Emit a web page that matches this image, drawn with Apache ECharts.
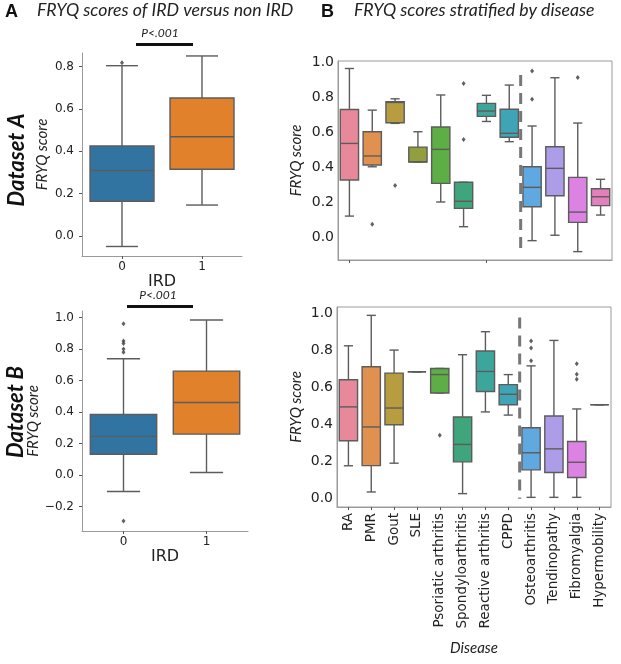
<!DOCTYPE html>
<html>
<head>
    <meta charset="utf-8">
    <script src="https://cdn.jsdelivr.net/npm/echarts@6/dist/echarts.min.js"></script>
    <title>FRYQ scores</title>
    <style>
        html, body { margin: 0; padding: 0; background: #fff; }
        #main { width: 621px; height: 664px; }
    </style>
</head>
<body>
    <div id="main"></div>

    <script type="text/javascript">
        // panel A: IRD 0 / 1, boxes are [min, q1, median, q3, max]
        var irdCats = ['0', '1'];
        var irdColors = ['#3274a1', '#e1812c'];
        var aTopBoxes = [[-0.05, 0.164, 0.309, 0.425, 0.805], [0.146, 0.315, 0.469, 0.652, 0.851]];
        var aTopOutliers = [[0, 0.819]];
        var aBotBoxes = [[-0.104, 0.133, 0.246, 0.385, 0.738], [0.017, 0.260, 0.461, 0.660, 0.984]];
        var aBotOutliers = [[0, 0.96], [0, 0.85], [0, 0.835], [0, 0.80], [0, 0.78], [0, -0.29]];
        var aTopTicks = [0, 0.2, 0.4, 0.6, 0.8];
        var aBotTicks = [-0.2, 0, 0.2, 0.4, 0.6, 0.8, 1.0];

        // panel B: diseases
        var diseases = ['RA', 'PMR', 'Gout', 'SLE', 'Psoriatic arthritis', 'Spondyloarthritis',
            'Reactive arthritis', 'CPPD', 'Osteoarthritis', 'Tendinopathy', 'Fibromyalgia', 'Hypermobility'];
        var diseaseColors = ['#e8889b', '#e0904f', '#b89c40', '#929f3c', '#5cae45', '#3fa57d',
            '#3ca69d', '#3fa4b5', '#5fa8e0', '#ad9de8', '#dc82e2', '#e47fbd'];
        var bTopBoxes = [
            [0.120, 0.327, 0.537, 0.732, 0.967],
            [0.403, 0.413, 0.465, 0.604, 0.728],
            [0.652, 0.656, 0.772, 0.776, 0.793],
            [0.430, 0.430, 0.432, 0.516, 0.604],
            [0.201, 0.308, 0.503, 0.631, 0.815],
            [0.059, 0.164, 0.205, 0.314, 0.314],
            [0.663, 0.692, 0.723, 0.767, 0.813],
            [0.547, 0.572, 0.595, 0.733, 0.872],
            [-0.021, 0.174, 0.285, 0.403, 0.637],
            [0.010, 0.237, 0.394, 0.518, 0.914],
            [-0.084, 0.084, 0.143, 0.342, 0.654],
            [0.126, 0.180, 0.231, 0.277, 0.331]
        ];
        var bTopOutliers = [[1, 0.073], [2, 0.296], [5, 0.560], [5, 0.881], [8, 0.952], [8, 0.79], [10, 0.916]];
        var bBotBoxes = [
            [0.177, 0.312, 0.494, 0.640, 0.823],
            [0.036, 0.178, 0.386, 0.710, 0.987],
            [0.191, 0.398, 0.488, 0.676, 0.800],
            [0.683, 0.683, 0.683, 0.683, 0.683],
            [0.569, 0.569, 0.668, 0.701, 0.701],
            [0.027, 0.198, 0.292, 0.440, 0.775],
            [0.467, 0.577, 0.685, 0.795, 0.899],
            [0.450, 0.506, 0.562, 0.614, 0.668],
            [0.007, 0.155, 0.247, 0.382, 0.715],
            [0.007, 0.141, 0.268, 0.445, 0.852],
            [0.007, 0.114, 0.196, 0.308, 0.483],
            [0.506, 0.506, 0.506, 0.506, 0.506]
        ];
        var bBotOutliers = [[4, 0.342], [8, 0.849], [8, 0.811], [8, 0.742], [10, 0.726], [10, 0.670], [10, 0.643]];
        var bTicks = [0, 0.2, 0.4, 0.6, 0.8, 1.0];
        // dashed divider between IRD and non IRD groups: [after category, top, bottom]
        var bTopDivider = [[7, 0.93, -0.103]];
        var bBotDivider = [[7, 0.975, 0.0]];

        var tickFont = 'DejaVu Sans';
        var noteFont = 'Lato';
        var spine = '#9a9a9a';
        var edge = '#5c5c5c';

        function fmt(v) {
            return v.toFixed(1).replace('-', '\u2212');
        }

        function boxRenderer(colors) {
            return function (params, api) {
                var x = api.value(0);
                var bw = api.size([1, 0])[0] * 0.8;
                var pMin = api.coord([x, api.value(1)]);
                var pQ1 = api.coord([x, api.value(2)]);
                var pMed = api.coord([x, api.value(3)]);
                var pQ3 = api.coord([x, api.value(4)]);
                var pMax = api.coord([x, api.value(5)]);
                var cx = pMin[0];
                var st = { stroke: edge, lineWidth: 1.4 };
                function seg(x1, y1, x2, y2) {
                    return { type: 'line', shape: { x1: x1, y1: y1, x2: x2, y2: y2 }, style: st };
                }
                return {
                    type: 'group',
                    children: [
                        seg(cx, pQ3[1], cx, pMax[1]),
                        seg(cx, pQ1[1], cx, pMin[1]),
                        seg(cx - bw / 4, pMax[1], cx + bw / 4, pMax[1]),
                        seg(cx - bw / 4, pMin[1], cx + bw / 4, pMin[1]),
                        {
                            type: 'rect',
                            shape: { x: cx - bw / 2, y: pQ3[1], width: bw, height: pQ1[1] - pQ3[1] },
                            style: { fill: colors[params.dataIndex], stroke: edge, lineWidth: 1.4 }
                        },
                        seg(cx - bw / 2, pMed[1], cx + bw / 2, pMed[1])
                    ]
                };
            };
        }

        function dividerRenderer(params, api) {
            var half = api.size([1, 0])[0] / 2;
            var top = api.coord([api.value(0), api.value(1)]);
            var bot = api.coord([api.value(0), api.value(2)]);
            return {
                type: 'line',
                shape: { x1: top[0] + half, y1: top[1], x2: bot[0] + half, y2: bot[1] },
                style: { stroke: '#777', lineWidth: 3, lineDash: [11, 7] }
            };
        }

        function boxSeries(idx, boxes, colors) {
            return {
                type: 'custom',
                xAxisIndex: idx,
                yAxisIndex: idx,
                renderItem: boxRenderer(colors),
                encode: { x: 0, y: [1, 2, 3, 4, 5] },
                data: boxes.map(function (b, i) { return [i].concat(b); }),
                z: 2
            };
        }

        function outlierSeries(idx, pts) {
            return {
                type: 'scatter',
                xAxisIndex: idx,
                yAxisIndex: idx,
                symbol: 'diamond',
                symbolSize: [4, 5],
                itemStyle: { color: '#3a3a3a' },
                data: pts,
                z: 3
            };
        }

        function dividerSeries(idx, d) {
            return {
                type: 'custom',
                xAxisIndex: idx,
                yAxisIndex: idx,
                renderItem: dividerRenderer,
                encode: { x: 0, y: [1, 2] },
                data: d,
                z: 4
            };
        }

        var nameStyle = { fontFamily: noteFont, fontStyle: 'italic', fontSize: 15, color: '#222' };

        function catAxis(idx, data, opts) {
            var ax = {
                type: 'category',
                gridIndex: idx,
                data: data,
                boundaryGap: true,
                axisLine: { onZero: false, lineStyle: { color: spine, width: 1 } },
                axisTick: { show: true, alignWithLabel: true, length: 3, lineStyle: { color: '#555' } },
                axisLabel: { fontFamily: tickFont, fontSize: opts.fontSize || 12, color: '#222', margin: opts.margin || 5 },
                splitLine: { show: false }
            };
            if (opts.rotate) ax.axisLabel.rotate = opts.rotate;
            if (opts.hideLabel) ax.axisLabel.show = false;
            if (opts.name) {
                ax.name = opts.name;
                ax.nameLocation = 'middle';
                ax.nameGap = opts.nameGap;
                ax.nameTextStyle = opts.nameStyle;
            }
            return ax;
        }

        function valAxis(idx, min, max, ticks, opts) {
            return {
                type: 'value',
                gridIndex: idx,
                min: min,
                max: max,
                axisLine: { show: true, onZero: false, lineStyle: { color: spine, width: 1 } },
                axisTick: { show: opts.ticks, length: 3, customValues: ticks, lineStyle: { color: '#555' } },
                axisLabel: {
                    customValues: ticks, formatter: fmt, fontFamily: tickFont,
                    fontSize: opts.fontSize, color: '#222', margin: opts.margin
                },
                splitLine: { show: false },
                name: 'FRYQ score',
                nameLocation: 'middle',
                nameGap: opts.nameGap,
                nameTextStyle: nameStyle
            };
        }

        var myChart = echarts.init(document.getElementById('main'), null, { renderer: 'canvas' });

        myChart.setOption({
            animation: false,
            backgroundColor: '#fff',
            grid: [
                { left: 82, top: 53, width: 160, height: 203 },
                { left: 82, top: 311, width: 166, height: 220 },
                { left: 338, top: 61, width: 274, height: 199, show: true, borderColor: spine, borderWidth: 1 },
                { left: 337, top: 307, width: 274, height: 200, show: true, borderColor: spine, borderWidth: 1 }
            ],
            xAxis: [
                catAxis(0, irdCats, { name: 'IRD', nameGap: 16, nameStyle: { fontFamily: tickFont, fontSize: 16, color: '#222' } }),
                catAxis(1, irdCats, { name: 'IRD', nameGap: 16, nameStyle: { fontFamily: tickFont, fontSize: 16, color: '#222' } }),
                catAxis(2, diseases, { hideLabel: true }),
                catAxis(3, diseases, {
                    fontSize: 13.5, rotate: 90, margin: 6, name: 'Disease', nameGap: 134,
                    nameStyle: { fontFamily: noteFont, fontStyle: 'italic', fontSize: 15, color: '#222' }
                })
            ],
            yAxis: [
                valAxis(0, -0.095, 0.865, aTopTicks, { ticks: true, fontSize: 12, margin: 8, nameGap: 32 }),
                valAxis(1, -0.354, 1.041, aBotTicks, { ticks: true, fontSize: 12, margin: 8, nameGap: 31 }),
                valAxis(2, -0.132, 1.01, bTicks, { ticks: false, fontSize: 14, margin: 4, nameGap: 34 }),
                valAxis(3, -0.045, 1.032, bTicks, { ticks: false, fontSize: 14, margin: 4, nameGap: 33 })
            ],
            series: [
                boxSeries(0, aTopBoxes, irdColors),
                outlierSeries(0, aTopOutliers),
                boxSeries(1, aBotBoxes, irdColors),
                outlierSeries(1, aBotOutliers),
                boxSeries(2, bTopBoxes, diseaseColors),
                outlierSeries(2, bTopOutliers),
                dividerSeries(2, bTopDivider),
                boxSeries(3, bBotBoxes, diseaseColors),
                outlierSeries(3, bBotOutliers),
                dividerSeries(3, bBotDivider)
            ],
            graphic: [
                { type: 'text', left: 5, top: 3, style: { text: 'A', font: 'bold 18px "Liberation Sans"', fill: '#111' } },
                { type: 'text', left: 37, top: 1, style: { text: 'FRYQ scores of IRD versus non IRD', font: 'italic 17.7px Lato', fill: '#222' } },
                { type: 'text', left: 321, top: 3, style: { text: 'B', font: 'bold 18px "Liberation Sans"', fill: '#111' } },
                { type: 'text', left: 354, top: 1, style: { text: 'FRYQ scores stratified by disease', font: 'italic 17.7px Lato', fill: '#222' } },
                {
                    type: 'text', x: 17, y: 160, rotation: Math.PI / 2,
                    style: { text: 'Dataset A', font: 'italic bold 22px Lato', fill: '#111', align: 'center', verticalAlign: 'middle' }
                },
                {
                    type: 'text', x: 16, y: 412, rotation: Math.PI / 2,
                    style: { text: 'Dataset B', font: 'italic bold 22px Lato', fill: '#111', align: 'center', verticalAlign: 'middle' }
                },
                { type: 'text', x: 160, y: 33, style: { text: 'P<.001', font: 'italic 12px Lato', fill: '#222', align: 'center', verticalAlign: 'middle' } },
                { type: 'rect', shape: { x: 136, y: 43, width: 57, height: 3 }, style: { fill: '#111' } },
                { type: 'text', x: 158, y: 295, style: { text: 'P<.001', font: 'italic 12px Lato', fill: '#222', align: 'center', verticalAlign: 'middle' } },
                { type: 'rect', shape: { x: 127, y: 305, width: 66, height: 3 }, style: { fill: '#111' } }
            ]
        });
    </script>
</body>
</html>
